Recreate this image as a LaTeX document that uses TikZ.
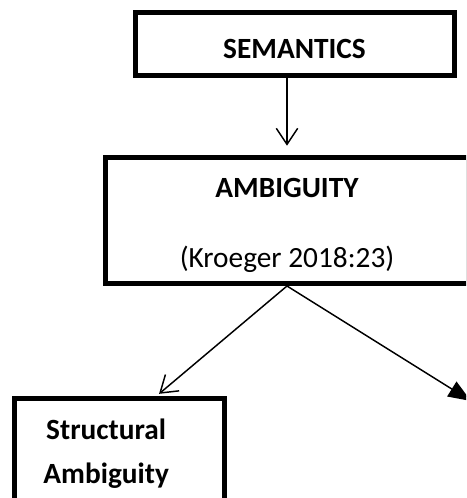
\documentclass[tikz,border=0pt]{standalone}
\usepackage{fontspec}
\setmainfont{Carlito}
\usetikzlibrary{arrows.meta}
\usetikzlibrary{calc}
\tikzset{
	box/.style={draw, line width=3.75pt, inner sep=0pt, align=center, font=\fontsize{22}{26.4}\selectfont},
	boxtext/.style={align=center, font=\fontsize{22}{26.4}\selectfont},
	link/.style={line width=1.1pt},
	barb/.style={link, -{Straight Barb[length=12pt, width=16pt]}},
	solidtip/.style={link, -{Triangle[length=17pt, width=13pt]}}
}

\begin{document}
\begin{tikzpicture}[x=0.75pt, y=-0.75pt]
	% 466px x 498px, 1px = 0.75pt
	\useasboundingbox (0,0) rectangle (466,498);
	\clip (0,0) rectangle (466,498);
	\node[box, minimum width=239.25pt, minimum height=47.6pt, text height=21.5pt] (sem) at (294.5,44) {\bfseries SEMANTICS};
	\node[box, minimum width=272.25pt, minimum height=94.5pt,
		label={[boxtext, yshift=-3.75pt]center:{\bfseries AMBIGUITY}\\[26pt] (Kroeger 2018:23)}] (amb) at (287,220.5) {};
	\node[box, minimum width=157.5pt, minimum height=77.25pt,
		label={[boxtext, xshift=-10pt, yshift=-3pt, font=\fontsize{22}{33}\selectfont\bfseries]center:Structural\\Ambiguity}] (str) at (119.5,450) {};
	% free end of the right branch
	\coordinate (lex) at (471,401);
	\draw[barb, shorten >=7pt] (sem.south -| amb.north) -- (amb.north);
	\draw[barb, shorten >=2.5pt] (amb.south) -- ($(str.north west)+(144.5,0)$);
	\draw[solidtip] (amb.south) -- (lex);
\end{tikzpicture}
\end{document}
